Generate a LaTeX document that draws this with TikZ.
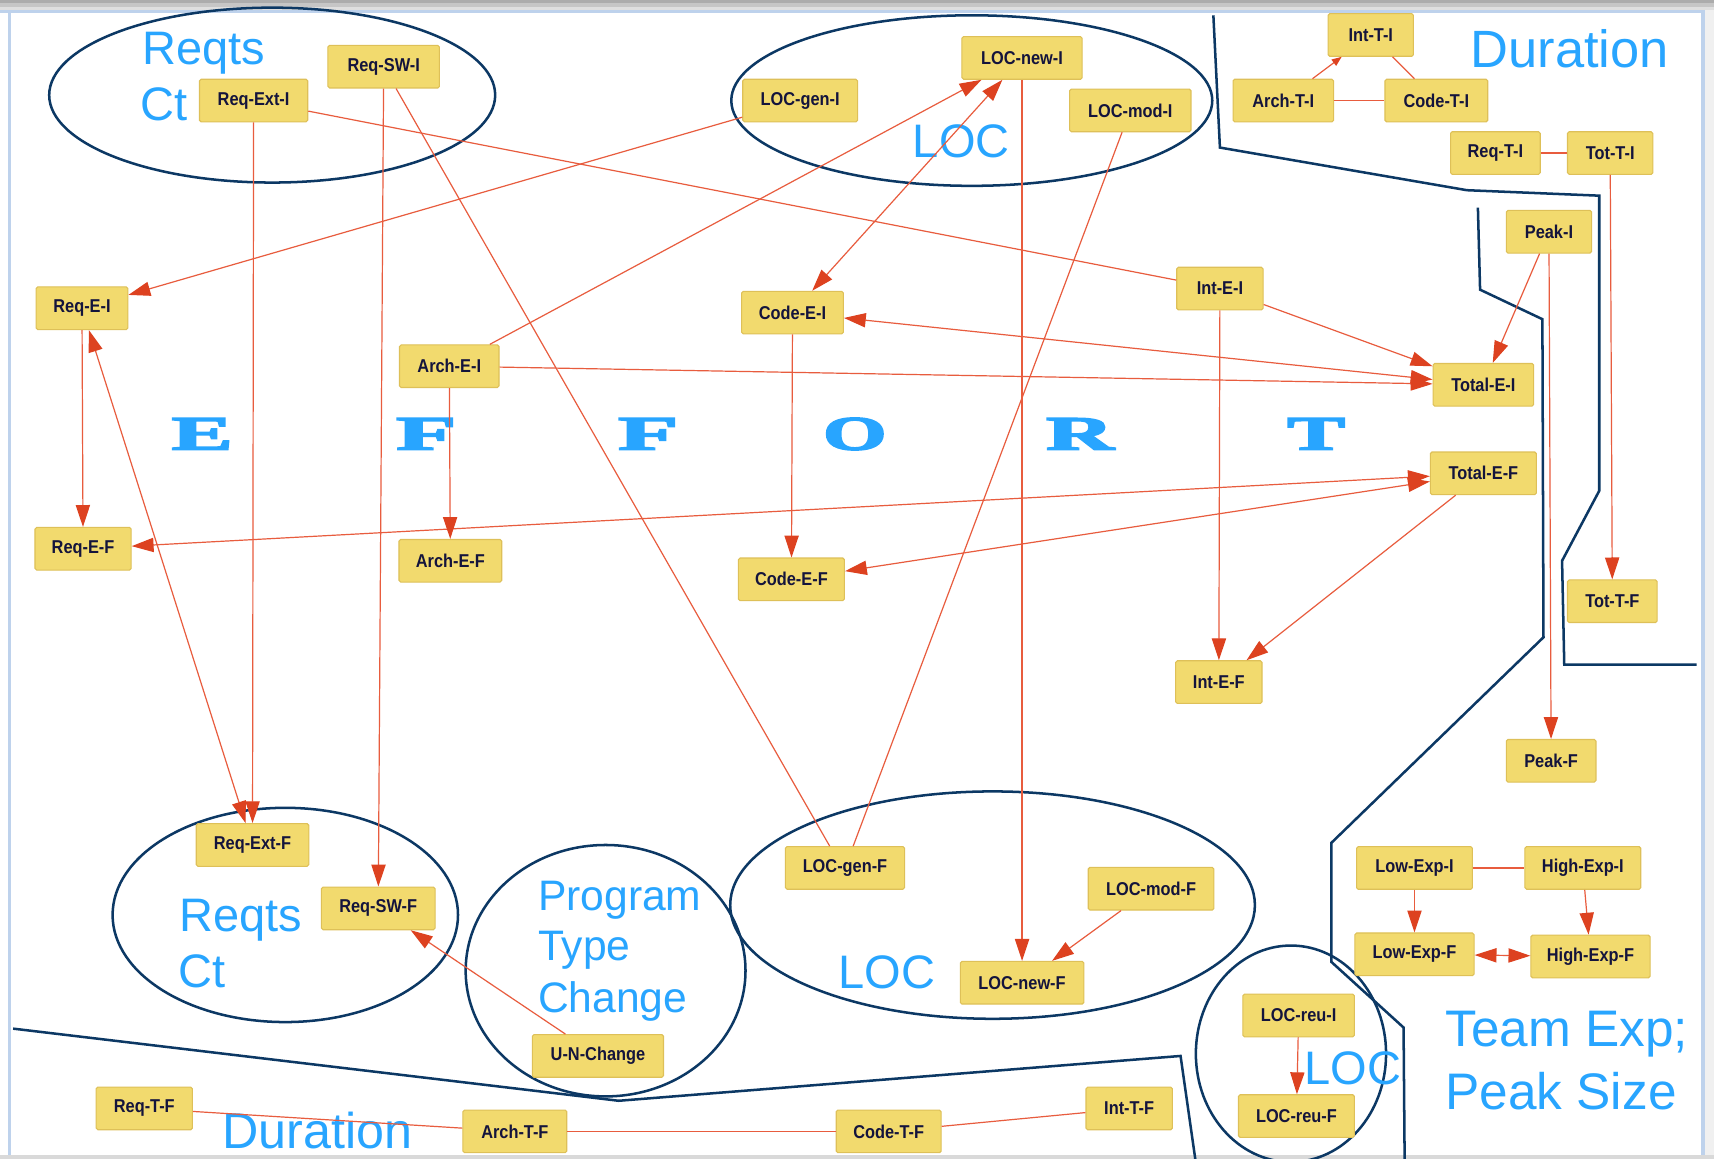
\documentclass[tikz,border=0pt]{standalone}
\usepackage{fontspec}
\setmainfont{Liberation Sans}
\newfontfamily\effortfont{Liberation Serif}[BoldFeatures={FakeBold=3}]
\usepackage{graphicx}
\usetikzlibrary{arrows.meta}
\definecolor{boxfill}{RGB}{242,218,110}
\definecolor{boxline}{RGB}{222,192,88}
\definecolor{boxtext}{RGB}{20,20,60}
\definecolor{edgecol}{RGB}{232,92,62}
\definecolor{headcol}{RGB}{221,66,32}
\definecolor{navy}{RGB}{12,56,100}
\definecolor{lblue}{RGB}{40,165,255}
\definecolor{frameblue}{RGB}{190,210,236}
\newcommand\boxtxt[1]{\scalebox{0.88}[1]{#1}}
\tikzset{
 hd/.tip={Triangle[length=20pt,width=13pt,color=headcol]},
 smallhd/.tip={Triangle[length=9pt,width=7pt,color=headcol]},
 box/.style={draw=boxline, fill=boxfill, line width=1pt, rounded corners=1.5pt,
   minimum height=39pt, inner sep=0pt, text=boxtext,
   font=\fontsize{17}{17}\selectfont\bfseries},
 link/.style={draw=edgecol, line width=1.1pt},
 arr/.style={link, -hd},
 darr/.style={link, hd-hd},
 region/.style={draw=navy, line width=2.3pt},
 lbl/.style={text=lblue, inner sep=0pt, anchor=base west},
 effort/.style={text=lblue, inner sep=0pt, font=\effortfont\bfseries\fontsize{44}{44}\selectfont},
}
\begin{document}
\begin{tikzpicture}[x=1pt,y=-1pt]
\useasboundingbox (0,0) rectangle (1568,1060);
\begin{scope}
\clip (0,0) rectangle (1568,1060);
\fill[white] (0,0) rectangle (1568,1060);
% window frame
\fill[gray!65] (0,0) rectangle (1568,3);
\fill[gray!45] (0,3) rectangle (1568,6);
\fill[gray!25] (0,6) rectangle (1568,9);
\fill[frameblue] (0,9.5) rectangle (1568,12);
\fill[frameblue] (7,9) rectangle (10,1060);
\fill[frameblue] (1556,9) rectangle (1560,1060);
\fill[gray!12] (1560,9) rectangle (1568,1060);
\fill[gray!30] (0,1057) rectangle (1568,1060);

% regions
\draw[region] (249,87) ellipse [x radius=204, y radius=80];
\draw[region] (889,92) ellipse [x radius=220, y radius=78];
\draw[region] (261,837) ellipse [x radius=158, y radius=98];
\draw[region] (554,888) ellipse [x radius=128, y radius=115];
\draw[region] (908,828) ellipse [x radius=240, y radius=104];
\draw[region] (1181,964) ellipse [x radius=87, y radius=99];
\draw[region] (1110,14) -- (1116,135) -- (1342,174) -- (1463,179) -- (1463,449)
  -- (1429,513) -- (1431,608) -- (1552,608);
\draw[region] (1352,190) -- (1354,265) -- (1411,292) -- (1412,583) -- (1218,771)
  -- (1218,880) -- (1284,940) -- (1285,1064);
\draw[region] (12,941) -- (566,1007) -- (1080,966) -- (1094,1064);

% blue labels
\node[lbl, font=\fontsize{43}{51}\selectfont] (lreqtopa) at (130,59) {Reqts};
\node[lbl, font=\fontsize{43}{51}\selectfont] (lreqtopb) at (128,110) {Ct};
\node[lbl, font=\fontsize{43}{51}\selectfont] (lloctop) at (835,144) {LOC};
\node[lbl, font=\fontsize{48}{56}\selectfont] (ldurtop) at (1345,62) {Duration};
\node[lbl, font=\fontsize{43}{51}\selectfont] (lreqbota) at (164,852) {Reqts};
\node[lbl, font=\fontsize{43}{51}\selectfont] (lreqbotb) at (163,903) {Ct};
\node[lbl, font=\fontsize{39}{46}\selectfont] (lproga) at (492,833) {Program};
\node[lbl, font=\fontsize{39}{46}\selectfont] (lprogb) at (492,879) {Type};
\node[lbl, font=\fontsize{39}{46}\selectfont] (lprogc) at (492,926) {Change};
\node[lbl, font=\fontsize{43}{51}\selectfont] (llocbot) at (767,904) {LOC};
\node[lbl, font=\fontsize{43}{51}\selectfont] (llocreu) at (1193,992) {LOC};
\node[lbl, font=\fontsize{47}{58}\selectfont] (lteama) at (1322,957) {Team Exp;};
\node[lbl, font=\fontsize{47}{58}\selectfont] (lteamb) at (1322,1015) {Peak Size};
\node[lbl, font=\fontsize{46}{54}\selectfont] (ldurbot) at (203,1051) {Duration};

% EFFORT
\node[effort] (e1) at (185,397) {\scalebox{1.9}[1]{E}};
\node[effort] (e2) at (390,397) {\scalebox{2.05}[1]{F}};
\node[effort] (e3) at (593,397) {\scalebox{2.05}[1]{F}};
\node[effort] (e4) at (782,397) {\scalebox{1.7}[1]{O}};
\node[effort] (e5) at (988,397) {\scalebox{1.95}[1]{R}};
\node[effort] (e6) at (1204,397) {\scalebox{1.8}[1]{T}};

% boxes
\node[box, minimum width=99]  (rei)  at (232,92)   {\boxtxt{Req-Ext-I}};
\node[box, minimum width=102] (rsi)  at (351,61)   {\boxtxt{Req-SW-I}};
\node[box, minimum width=105] (lgi)  at (732,92)   {\boxtxt{LOC-gen-I}};
\node[box, minimum width=110] (lni)  at (935,53)   {\boxtxt{LOC-new-I}};
\node[box, minimum width=111] (lmi)  at (1034,101) {\boxtxt{LOC-mod-I}};
\node[box, minimum width=78]  (iti)  at (1254,32)  {\boxtxt{Int-T-I}};
\node[box, minimum width=92]  (ati)  at (1174,92)  {\boxtxt{Arch-T-I}};
\node[box, minimum width=94]  (cti)  at (1314,92)  {\boxtxt{Code-T-I}};
\node[box, minimum width=82]  (rti)  at (1368,140) {\boxtxt{Req-T-I}};
\node[box, minimum width=78]  (tti)  at (1473,140) {\boxtxt{Tot-T-I}};
\node[box, minimum width=78]  (pki)  at (1417,212) {\boxtxt{Peak-I}};
\node[box, minimum width=84]  (rqei) at (75,282)   {\boxtxt{Req-E-I}};
\node[box, minimum width=93]  (cei)  at (725,286)  {\boxtxt{Code-E-I}};
\node[box, minimum width=79]  (iei)  at (1116,264) {\boxtxt{Int-E-I}};
\node[box, minimum width=91]  (aei)  at (411,335)  {\boxtxt{Arch-E-I}};
\node[box, minimum width=92]  (tei)  at (1357,352) {\boxtxt{Total-E-I}};
\node[box, minimum width=97]  (tef)  at (1357,433) {\boxtxt{Total-E-F}};
\node[box, minimum width=88]  (rqef) at (76,502)   {\boxtxt{Req-E-F}};
\node[box, minimum width=94]  (aef)  at (412,513)  {\boxtxt{Arch-E-F}};
\node[box, minimum width=97]  (cef)  at (724,530)  {\boxtxt{Code-E-F}};
\node[box, minimum width=82]  (ttf)  at (1475,550) {\boxtxt{Tot-T-F}};
\node[box, minimum width=79]  (ief)  at (1115,624) {\boxtxt{Int-E-F}};
\node[box, minimum width=82]  (pkf)  at (1419,696) {\boxtxt{Peak-F}};
\node[box, minimum width=103] (ref)  at (231,773)  {\boxtxt{Req-Ext-F}};
\node[box, minimum width=109] (lgf)  at (773,794)  {\boxtxt{LOC-gen-F}};
\node[box, minimum width=106] (lei)  at (1294,794) {\boxtxt{Low-Exp-I}};
\node[box, minimum width=106] (hei)  at (1448,794) {\boxtxt{High-Exp-I}};
\node[box, minimum width=115] (lmf)  at (1053,813) {\boxtxt{LOC-mod-F}};
\node[box, minimum width=104] (rsf)  at (346,831)  {\boxtxt{Req-SW-F}};
\node[box, minimum width=109] (lef)  at (1294,873) {\boxtxt{Low-Exp-F}};
\node[box, minimum width=109] (hef)  at (1455,875) {\boxtxt{High-Exp-F}};
\node[box, minimum width=113] (lnf)  at (935,899)  {\boxtxt{LOC-new-F}};
\node[box, minimum width=102] (lri)  at (1188,929) {\boxtxt{LOC-reu-I}};
\node[box, minimum width=120] (unc)  at (547,966)  {\boxtxt{U-N-Change}};
\node[box, minimum width=88]  (rtf)  at (132,1014) {\boxtxt{Req-T-F}};
\node[box, minimum width=79]  (itf)  at (1033,1014) {\boxtxt{Int-T-F}};
\node[box, minimum width=106] (lrf)  at (1186,1021) {\boxtxt{LOC-reu-F}};
\node[box, minimum width=95]  (atf)  at (471,1035) {\boxtxt{Arch-T-F}};
\node[box, minimum width=96]  (ctf)  at (813,1035) {\boxtxt{Code-T-F}};

% connectors
\draw[arr]  (rei) -- (ref);
\draw[arr]  (rsi) -- (rsf);
\draw[link] (rsi) -- (lgf.125);
\draw[link] (rei) -- (iei);
\draw[arr]  (lgi) -- (rqei);
\draw[arr]  (aei) -- (lni);
\draw[darr] (cei) -- (lni);
\draw[arr]  (lni) -- (lnf);
\draw[link] (lmi) -- (lgf);
\draw[arr]  (rqei) -- (rqef);
\draw[darr] (rqei) -- (ref);
\draw[darr] (rqef) -- (tef);
\draw[darr] (cef) -- (tef);
\draw[darr] (cei) -- (tei);
\draw[arr]  (aei) -- (tei);
\draw[arr]  (iei) -- (tei);
\draw[arr]  (pki) -- (tei);
\draw[arr]  (pki) -- (pkf);
\draw[arr]  (iei) -- (ief);
\draw[arr]  (tef) -- (ief);
\draw[arr]  (aei) -- (aef);
\draw[arr]  (cei) -- (cef);
\draw[arr]  (tti) -- (ttf);
\draw[link, -smallhd] (ati) -- (iti);
\draw[link] (iti) -- (cti);
\draw[link] (ati) -- (cti);
\draw[link] (rti) -- (tti);
\draw[link] (lei) -- (hei);
\draw[arr]  (lei) -- (lef);
\draw[arr]  (hei) -- (hef);
\draw[darr] (lef) -- (hef);
\draw[arr]  (lmf) -- (lnf);
\draw[arr]  (unc) -- (rsf);
\draw[arr]  (lri) -- (lrf);
\draw[link] (rtf) -- (atf);
\draw[link] (atf) -- (ctf);
\draw[link] (ctf) -- (itf);
\end{scope}
\end{tikzpicture}
\end{document}
